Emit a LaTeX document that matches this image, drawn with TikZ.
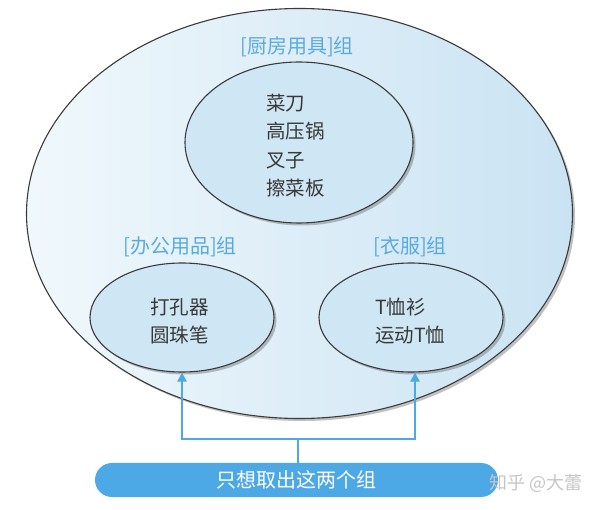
\documentclass[tikz,border=0pt]{standalone}
\usepackage{fontspec}
\setmainfont{Noto Sans CJK SC}
\usetikzlibrary{shapes.geometric,shadows,arrows.meta}
\definecolor{lblue}{HTML}{5AAAE0}
\definecolor{barblue}{HTML}{4DA8E6}
\definecolor{innerfill}{HTML}{CFE6F5}
\definecolor{txtgray}{HTML}{383838}
\definecolor{edgegray}{HTML}{3A3A3A}
\definecolor{outerlight}{HTML}{F0F8FC}
\definecolor{outerdark}{HTML}{CAE3F3}
\tikzset{
  grp/.style={ellipse, draw=edgegray, line width=1.1pt, inner sep=0pt,
    drop shadow={shadow xshift=2.5pt, shadow yshift=-2.5pt, opacity=0.35, fill=black!70}},
  items/.style={anchor=west, align=left, text=txtgray, font=\fontsize{19.5}{28.5}\selectfont, inner sep=0pt},
  glabel/.style={text=lblue, font=\fontsize{20}{24}\selectfont, inner sep=0pt},
  conn/.style={draw=barblue, line width=2.4pt},
  arr/.style={conn, -{Triangle[length=9pt,width=9pt]}},
}
\begin{document}
\begin{tikzpicture}[x=1pt,y=-1pt]
\useasboundingbox (0,0) rectangle (600,510);
% outer group
\node[grp, minimum width=546pt, minimum height=410pt, left color=outerlight, right color=outerdark] (outer) at (299.5,213.5) {};
% inner groups
\node[grp, fill=innerfill, minimum width=228pt, minimum height=161pt] (kitchen) at (299,142.5) {};
\node[grp, fill=innerfill, minimum width=184pt, minimum height=109pt] (office) at (182,317.5) {};
\node[grp, fill=innerfill, minimum width=184pt, minimum height=109pt] (clothes) at (411,317.5) {};
% labels
\node[glabel] (lk) at (297,47) {[厨房用具]组};
\node[glabel] (lo) at (180,247) {[办公用品]组};
\node[glabel] (lc) at (410,247) {[衣服]组};
% items
\node[items] (ik) at (266,145.5) {菜刀\\高压锅\\叉子\\擦菜板};
\node[items] (io) at (150,321) {打孔器\\圆珠笔};
\node[items] (ic) at (375,321) {T恤衫\\运动T恤};
% bar
\node[fill=barblue, rounded corners=17pt, minimum width=403pt, minimum height=34pt, inner sep=0pt,
  text=white, font=\fontsize{20}{24}\selectfont] (bar) at (296.5,480) {只想取出这两个组};
% connectors
\coordinate (jl) at (182,439);
\coordinate (jr) at (415,439);
\coordinate (jm) at (298,439);
\draw[conn] (bar.north -| jm) -- (jm);
\draw[conn, line cap=rect] (jl) -- (jr);
\draw[arr] (jl) -- (jl |- office.south);
\draw[arr] (jr) -- (jr |- clothes.south);
% watermark
\node[text=gray!45, font=\fontsize{18}{20}\selectfont, inner sep=0pt] (wm) at (536,483) {知乎 @大蕾};
\end{tikzpicture}
\end{document}
